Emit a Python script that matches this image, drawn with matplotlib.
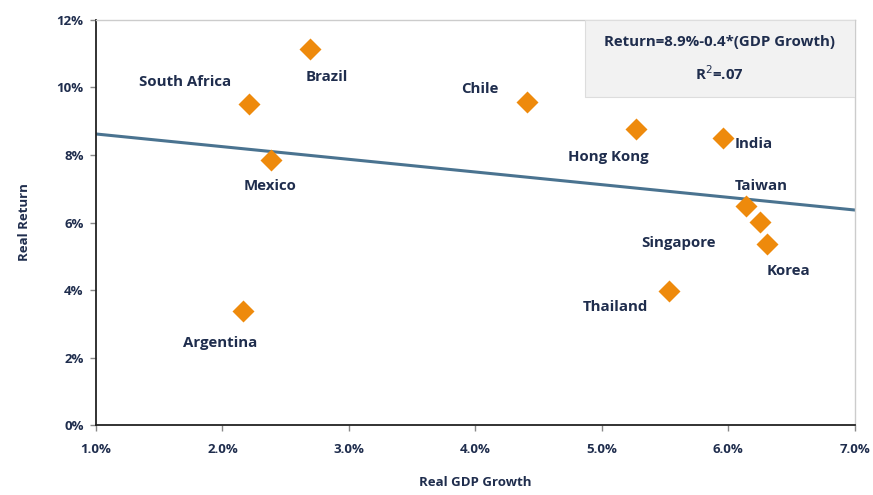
import matplotlib.pyplot as plt
from matplotlib.patches import Rectangle
from matplotlib.ticker import FuncFormatter

plt.rcParams['font.family'] = ['Open Sans', 'DejaVu Sans']

# Dados
countries = ['South Africa', 'Brazil', 'Chile', 'Hong Kong', 'India', 'Mexico',
             'Taiwan', 'Singapore', 'Korea', 'Thailand', 'Argentina']
gdp_growth = [2.21, 2.69, 4.41, 5.27, 5.96, 2.38, 6.14, 6.25, 6.31, 5.53, 2.16]
real_return = [9.51, 11.14, 9.57, 8.77, 8.50, 7.85, 6.49, 6.01, 5.36, 3.97, 3.38]

# Linha de tendência
trend_x = [1.0, 7.0]
trend_y = [8.62, 6.37]

# Deslocamento dos rótulos (pixels)
label_offsets = [(-64, 22), (17, -28), (-47, 13), (-28, -28), (31, -6), (0, -26),
                 (15, 20), (-81, -21), (21, -27), (-53, -16), (-23, -32)]

text_color = '#1f2d4d'

fig = plt.figure(figsize=(8.73, 4.95), dpi=100)
ax = fig.add_axes([0.110, 0.141, 0.869, 0.819])

ax.plot(trend_x, trend_y, color='#4a7390', lw=2.2, zorder=2)
ax.plot(gdp_growth, real_return, 'D', color='#ee8a0c', ms=11, mec='none', zorder=3)

for name, x, y, (dx, dy) in zip(countries, gdp_growth, real_return, label_offsets):
    ax.annotate(name, (x, y), xytext=(dx, dy), textcoords='offset pixels',
                ha='center', va='center', fontsize=10.8, fontweight='bold',
                color=text_color)

ax.set_xlim(1.0, 7.0)
ax.set_ylim(0, 12)
ax.set_xticks([1, 2, 3, 4, 5, 6, 7])
ax.set_yticks([0, 2, 4, 6, 8, 10, 12])
ax.xaxis.set_major_formatter(FuncFormatter(lambda v, p: f'{v:.1f}%'))
ax.yaxis.set_major_formatter(FuncFormatter(lambda v, p: f'{v:.0f}%'))
ax.tick_params(labelsize=9.5, colors='#888888', length=4, width=1, pad=5)
for lbl in ax.get_xticklabels() + ax.get_yticklabels():
    lbl.set_color(text_color)
    lbl.set_fontweight('bold')
ax.tick_params(axis='x', pad=9)

for s in ['left', 'bottom']:
    ax.spines[s].set_color('#222222')
    ax.spines[s].set_linewidth(1.3)
for s in ['top', 'right']:
    ax.spines[s].set_color('#cccccc')
    ax.spines[s].set_linewidth(1.0)

ax.set_xlabel('Real GDP Growth', fontsize=9.5, fontweight='bold', color=text_color, labelpad=14)
ax.set_ylabel('Real Return', fontsize=9.5, fontweight='bold', color=text_color, labelpad=18)

# Caixa com a equação
ax.add_patch(Rectangle((0.644, 0.81), 0.356, 0.19, transform=ax.transAxes,
                       facecolor='#f2f2f2', edgecolor='#dddddd', lw=0.8, zorder=4))
ax.text(0.822, 0.945, 'Return=8.9%-0.4*(GDP Growth)', transform=ax.transAxes,
        ha='center', va='center', fontsize=10.8, fontweight='bold', color=text_color, zorder=5)
ax.text(0.822, 0.868, 'R$^2$=.07', transform=ax.transAxes,
        ha='center', va='center', fontsize=10.8, fontweight='bold', color=text_color, zorder=5)

fig.savefig('out.png', dpi=100)
